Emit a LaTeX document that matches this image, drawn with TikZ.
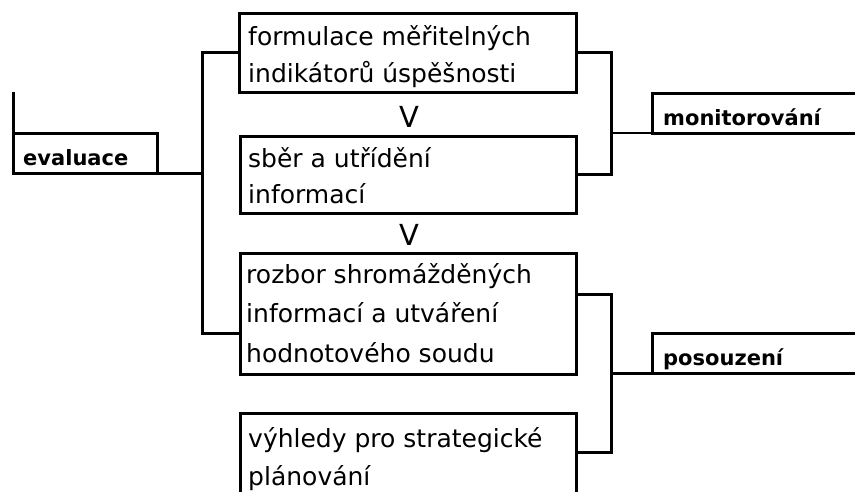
\documentclass[tikz,border=0pt]{standalone}
\usepackage{fontspec}
\setmainfont{DejaVu Sans}
\begin{document}
\begin{tikzpicture}[x=1pt,y=-1pt,
  box/.style={draw, line width=3pt, rectangle, inner sep=0pt, outer sep=0pt, anchor=north west},
  txt/.style={inner sep=0pt, font=\fontsize{25}{30}\selectfont, anchor=base west},
  vtxt/.style={inner sep=0pt, font=\fontsize{29}{34}\selectfont, anchor=base},
  lbl/.style={inner sep=0pt, font=\fontsize{21}{25}\selectfont\bfseries, anchor=base west},
  conn/.style={line width=3pt},
  thinconn/.style={line width=1.5pt}]
\useasboundingbox (0,0) rectangle (855,491);
\fill[white] (0,0) rectangle (855,491);
\clip (0,0) rectangle (855,491);
% boxes
\node[box, minimum width=337pt, minimum height=79pt] (b1) at (239,13) {};
\node[box, minimum width=336pt, minimum height=77pt] (b2) at (240,136) {};
\node[box, minimum width=336pt, minimum height=121pt] (b3) at (240,253) {};
\node[box, minimum width=336pt, minimum height=82pt] (b4) at (240,413) {};
\node[box, minimum width=144pt, minimum height=40pt] (ev) at (13,133) {};
\node[box, minimum width=230pt, minimum height=40pt] (mon) at (652,93) {};
\node[box, minimum width=230pt, minimum height=40pt] (pos) at (652,333) {};
% texts
\node[txt] (t1a) at (248,45) {formulace měřitelných};
\node[txt] (t1b) at (248,82) {indikátorů úspěšnosti};
\node[txt] (t2a) at (248,167) {sběr a utřídění};
\node[txt] (t2b) at (248,203) {informací};
\node[txt] (t3a) at (246,283) {rozbor shromážděných};
\node[txt] (t3b) at (246,322) {informací a utváření};
\node[txt] (t3c) at (246,362) {hodnotového soudu};
\node[txt] (t4a) at (248,447) {výhledy pro strategické};
\node[txt] (t4b) at (248,485) {plánování};
\node[vtxt] (v1) at (409,127) {V};
\node[vtxt] (v2) at (409,245) {V};
\node[lbl] (l1) at (23,165) {evaluace};
\node[lbl] (l2) at (663,125) {monitorování};
\node[lbl] (l3) at (663,365) {posouzení};
% connectors
\coordinate (lb) at (202,173);
\coordinate (b3l) at (240,333);
\draw[conn] (ev.north west) -- ++(0,-41);
\draw[conn] (ev.south east) -- (lb);
\draw[conn] (b1.west) -| (lb);
\draw[conn] (lb) |- (b3l);
\coordinate (m1) at (611,133);
\draw[conn] (b1.east) -| (m1) |- (b2.east);
\draw[thinconn] (m1) -- (mon.south west);
\coordinate (b3r) at (576,294);
\coordinate (b4r) at (576,452);
\coordinate (m2) at (611,373);
\draw[conn] (b3r) -| (m2) |- (b4r);
\draw[conn] (m2) -- (pos.south west);
\end{tikzpicture}
\end{document}
